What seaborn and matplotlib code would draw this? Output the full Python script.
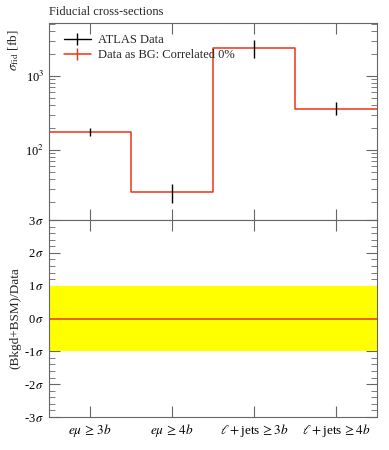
import numpy as np
import pandas as pd
import matplotlib
matplotlib.use("Agg")
import matplotlib.pyplot as plt
from matplotlib.ticker import AutoMinorLocator, LogLocator, NullFormatter
from matplotlib.lines import Line2D
import seaborn as sns

# data
categories = [r"$e\mu \,\geq\, 3b$", r"$e\mu \,\geq\, 4b$", r"$\ell + $jets$\,\geq 3b$", r"$\ell + $jets$\,\geq 4b$"]
xsec = [177, 26.8, 2370, 358]
xsec_lo = [155, 19.0, 1735, 294]
xsec_hi = [200, 34.4, 3030, 442]
deviation = [0, 0, 0, 0]
band_sigma = 1

sns.set_style("ticks")
plt.rcParams["font.family"] = ["Liberation Serif", "DejaVu Serif"]
plt.rcParams["mathtext.fontset"] = "stix"

red = "#EE3311"
grey = "#666666"

pos = np.arange(len(categories))
edges = np.arange(len(categories) + 1) - 0.5
step_df = pd.DataFrame({"x": edges, "y": xsec + [xsec[-1]]})
dev_df = pd.DataFrame({"x": edges, "y": deviation + [deviation[-1]]})

fig = plt.figure(figsize=(3.89, 4.5), dpi=100)
ax1 = fig.add_axes([0.126, 0.511, 0.843, 0.438])
ax2 = fig.add_axes([0.126, 0.0733, 0.843, 0.4377])

# top panel
sns.lineplot(data=step_df, x="x", y="y", drawstyle="steps-post", color=red, lw=1.1, ax=ax1, legend=False)
yerr = [np.array(xsec) - np.array(xsec_lo), np.array(xsec_hi) - np.array(xsec)]
ax1.errorbar(pos, xsec, yerr=yerr, fmt="none", ecolor="black", elinewidth=1, capsize=0)
ax1.set_yscale("log")
ax1.set_ylim(11.3, 5200)
ax1.set_xlim(-0.5, 3.5)
ax1.set_xticks(pos)
ax1.set_xticklabels([])
ax1.yaxis.set_minor_locator(LogLocator(base=10, subs=np.arange(2, 10)))
ax1.yaxis.set_minor_formatter(NullFormatter())
ax1.set_yticks([100, 1000])
ax1.set_yticklabels([r"10$^{2}$", r"10$^{3}$"])
ax1.set_xlabel("")
ax1.set_ylabel(r"$\sigma_{\rm fid}$ [fb]", fontsize=9.5, loc="top")
ax1.set_title("Fiducial cross-sections", loc="left", fontsize=9, pad=6)

handles = [Line2D([], [], color="black", lw=1, marker="|", ms=9, mew=1),
           Line2D([], [], color=red, lw=1.1, marker="|", ms=9, mew=1)]
ax1.legend(handles, ["ATLAS Data", "Data as BG: Correlated 0%"], loc="upper left", frameon=False,
           fontsize=9, handlelength=2.1, handletextpad=0.6, borderaxespad=0.4, labelspacing=0.25,
           bbox_to_anchor=(0.016, 0.995))

# bottom panel
ax2.axhspan(-band_sigma, band_sigma, color="#FFFF00", lw=0)
sns.lineplot(data=dev_df, x="x", y="y", drawstyle="steps-post", color=red, lw=1.1, ax=ax2, legend=False)
ax2.set_xlim(-0.5, 3.5)
ax2.set_ylim(-3, 3)
ax2.set_xticks(pos)
ax2.set_xticklabels(categories, fontsize=9.5)
ax2.set_yticks(np.arange(-3, 4))
ax2.set_yticklabels([r"%d$\,\sigma$" % v for v in range(-3, 4)], fontsize=9)
ax2.yaxis.set_minor_locator(AutoMinorLocator(5))
ax2.set_xlabel("")
ax2.set_ylabel("(Bkgd+BSM)/Data", fontsize=9.5)

for ax in (ax1, ax2):
    ax.tick_params(which="both", direction="in", top=True, right=True, colors=grey, labelcolor="black")
    ax.tick_params(which="major", length=8, width=0.8)
    ax.tick_params(which="minor", length=4, width=0.6)
    ax.tick_params(axis="x", which="minor", bottom=False, top=False)
    for s in ax.spines.values():
        s.set_color(grey)
        s.set_linewidth(0.8)

ax1.tick_params(axis="y", labelsize=9)
ax1.yaxis.set_label_coords(-0.085, 0.965)
ax2.yaxis.set_label_coords(-0.085, 0.5)

fig.savefig("out.png", dpi=100)
